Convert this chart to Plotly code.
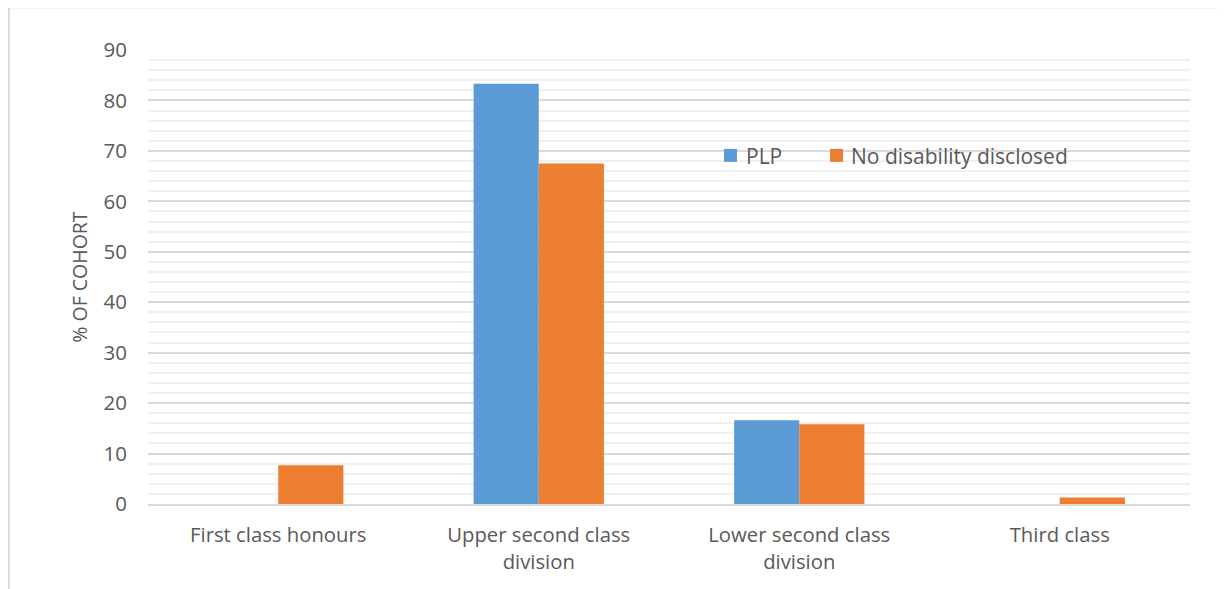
import plotly.graph_objects as go

categories = ["First class honours", "Upper second class<br>division", "Lower second class<br>division", "Third class"]
plp = [0, 83.3, 16.6, 0]
no_disability = [7.7, 67.5, 15.8, 1.3]
series_names = ["PLP", "No disability disclosed"]
series_colors = ["#5b9bd5", "#ed7d31"]
y_ticks = [0, 10, 20, 30, 40, 50, 60, 70, 80, 90]

fig = go.Figure()
fig.add_trace(go.Bar(x=categories, y=plp, name=series_names[0], marker=dict(color=series_colors[0], line=dict(width=0))))
fig.add_trace(go.Bar(x=categories, y=no_disability, name=series_names[1], marker=dict(color=series_colors[1], line=dict(width=0))))

font_family = "Open Sans, Lato, sans-serif"
# the page body has an 8px default margin, so the figure is offset by 8px on screen
L, R, T, B = 140, 43, 41.5, 93
pw = 1225 - L - R
ph = 589 - T - B
OX, OY = 148, 49.5  # screen position of plot area top-left


def px(x):
    return (x - OX) / pw


def py(y):
    return 1 - (y - OY) / ph


# manual legend (square swatch + label), placed like the original
legend_items = [(724, 744), (830, 849)]  # (swatch left, text left) in screen px
shapes = [dict(type="rect", xref="paper", yref="paper",
               x0=px(9), x1=px(1223), y0=-0.4, y1=py(7),
               line=dict(color="#d0d0d0", width=1.5), fillcolor="rgba(0,0,0,0)", layer="below")]
annotations = []
for (sx, tx), name, col in zip(legend_items, series_names, series_colors):
    shapes.append(dict(type="rect", xref="paper", yref="paper",
                       x0=px(sx), x1=px(sx + 13), y0=py(161.5), y1=py(148.5),
                       line=dict(width=0), fillcolor=col))
    annotations.append(dict(text=name, xref="paper", yref="paper", x=px(tx), y=py(155.5),
                            xanchor="left", yanchor="middle", showarrow=False,
                            font=dict(size=21, color="#595959", family=font_family)))

fig.update_layout(
    width=1225, height=589,
    margin=dict(l=L, r=R, t=T, b=B),
    paper_bgcolor="white", plot_bgcolor="white",
    barmode="group", bargap=0.5, bargroupgap=0,
    font=dict(family=font_family, color="#595959", size=20),
    showlegend=False,
    xaxis=dict(showgrid=False, showline=True, linecolor="#d9d9d9", linewidth=1.5,
               tickfont=dict(size=20.3, color="#595959"), ticks="", ticklabelstandoff=12),
    yaxis=dict(range=[0, 90], tickvals=y_ticks, showgrid=True, gridcolor="#d9d9d9", gridwidth=1.5,
               zeroline=False, showline=False, ticks="", ticklabelstandoff=20,
               tickfont=dict(size=20.5, color="#595959"),
               minor=dict(dtick=2, showgrid=True, gridcolor="#f0f0f0", gridwidth=1.5),
               title=dict(text="% OF COHORT", font=dict(size=19.5, color="#595959"), standoff=10)),
    shapes=shapes,
    annotations=annotations,
)
fig.write_html("out.html")
